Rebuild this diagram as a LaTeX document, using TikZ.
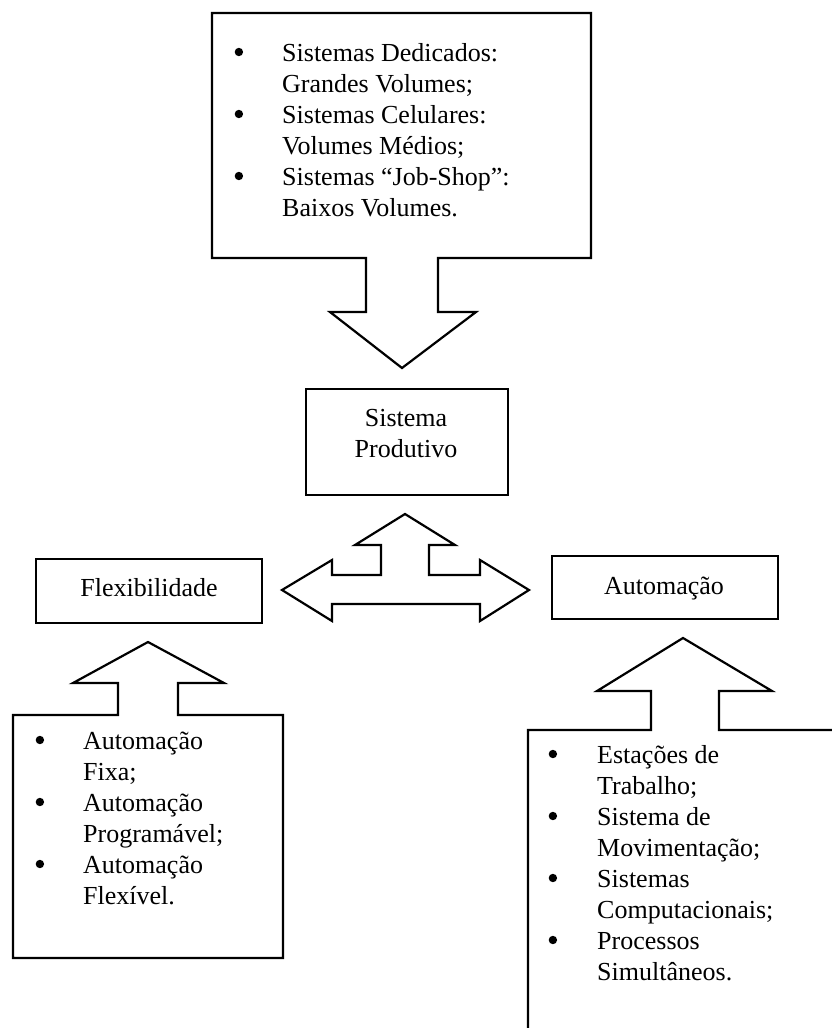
\documentclass[tikz,border=0pt]{standalone}
\usepackage{fontspec}
\setmainfont{Liberation Serif}
% filled round list bullet
\newcommand{\blt}{\raisebox{4.8pt}{\tikz[x=1pt,y=1pt]\fill[black] (0,0) circle (4.2pt);}}
\begin{document}
\begin{tikzpicture}[x=1pt,y=-1pt,
  outline/.style={draw=black, line width=2.2pt, line join=miter, fill=white},
  box/.style={draw=black, line width=2.2pt, inner sep=0pt, anchor=north west},
  lbl/.style={font=\fontsize{26}{31}\selectfont, inner sep=0pt},
  listtext/.style={lbl, anchor=base west}]
\useasboundingbox[fill=white] (0,0) rectangle (831,1028);

% callout on top: box with a block arrow pointing down
\draw[outline] (212,13) -- (591,13) -- (591,258) -- (438,258) -- (438,312)
  -- (476,312) -- (402,368) -- (330,312) -- (366,312) -- (366,258)
  -- (212,258) -- cycle;
\node[listtext] (tipos) at (234.5,61) {\begin{tabular}[t]{@{}p{47.5pt}@{}l@{}}
\blt & Sistemas Dedicados:\\
 & Grandes Volumes;\\
\blt & Sistemas Celulares:\\
 & Volumes Médios;\\
\blt & Sistemas “Job-Shop”:\\
 & Baixos Volumes.
\end{tabular}};

% central box
\node[box, minimum width=202pt, minimum height=106pt] (sp) at (305,388) {};
\node[lbl, anchor=base] (sptxt1) at (406,426) {Sistema};
\node[lbl, anchor=base] (sptxt2) at (406,457) {Produtivo};

% side boxes
\node[box, minimum width=226pt, minimum height=64pt] (flex) at (35,558) {};
\node[lbl, anchor=base] (flextxt) at (149,596) {Flexibilidade};
\node[box, minimum width=226pt, minimum height=63pt] (auto) at (551,555) {};
\node[lbl, anchor=base] (autotxt) at (664,594) {Automação};

% three-way block arrow between the boxes
\draw[outline] (282,590) -- (332,560) -- (332,575) -- (381,575) -- (381,545)
  -- (355,545) -- (405,514) -- (455,545) -- (429,545) -- (429,575)
  -- (480,575) -- (480,560) -- (529,590) -- (480,621) -- (480,604)
  -- (332,604) -- (332,621) -- cycle;

% lower left callout: box with a block arrow pointing up
\draw[outline] (13,715) -- (118,715) -- (118,683) -- (73,683) -- (148,642)
  -- (224,683) -- (178,683) -- (178,715) -- (283,715) -- (283,958)
  -- (13,958) -- cycle;
\node[listtext] (flexlist) at (35.5,749) {\begin{tabular}[t]{@{}p{47.5pt}@{}l@{}}
\blt & Automação\\
 & Fixa;\\
\blt & Automação\\
 & Programável;\\
\blt & Automação\\
 & Flexível.
\end{tabular}};

% lower right callout: box with a block arrow pointing up
\draw[outline] (528,1040) -- (528,730) -- (651,730) -- (651,691) -- (597,691)
  -- (683,638) -- (772,691) -- (719,691) -- (719,730) -- (845,730)
  -- (845,1040) -- cycle;
\node[listtext] (autolist) at (548.5,763) {\begin{tabular}[t]{@{}p{48.5pt}@{}l@{}}
\blt & Estações de\\
 & Trabalho;\\
\blt & Sistema de\\
 & Movimentação;\\
\blt & Sistemas\\
 & Computacionais;\\
\blt & Processos\\
 & Simultâneos.
\end{tabular}};
\end{tikzpicture}
\end{document}
